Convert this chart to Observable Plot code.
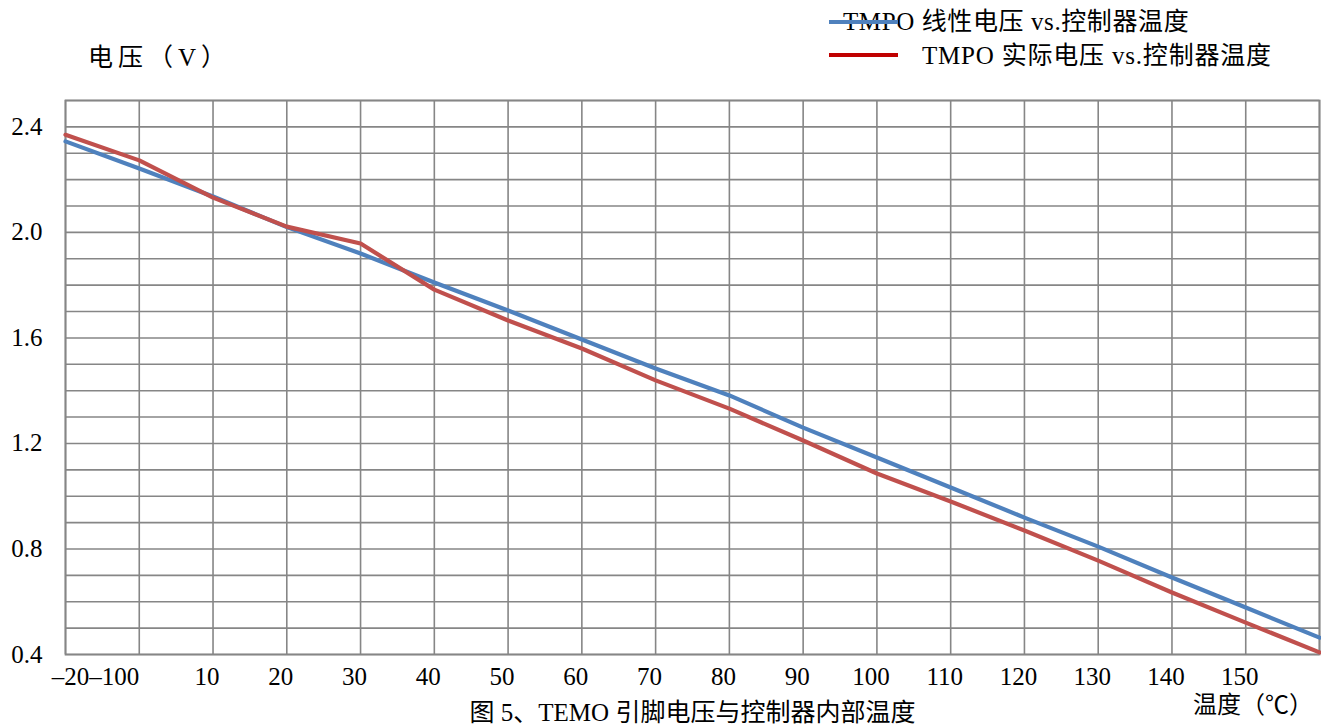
<!DOCTYPE html>
<html>
<head>
<meta charset="utf-8">
<script src="https://cdn.jsdelivr.net/npm/d3@7"></script>
<script src="https://cdn.jsdelivr.net/npm/@observablehq/plot@0.6"></script>
<style>
  html, body { margin: 0; padding: 0; background: #fff; }
  #wrap { position: relative; width: 1321px; height: 725px; overflow: hidden;
          font-family: "Liberation Serif", "Noto Sans CJK SC", serif; color: #000; }
  #wrap svg { position: absolute; left: 0; top: 0; }
  .lbl { position: absolute; font-size: 25px; line-height: 25px; white-space: nowrap; }
  .sw { position: absolute; }
</style>
</head>
<body>
<div id="wrap"></div>
<script>
// Temperature (°C) sampled every 10 degrees
const temps = [-10, 0, 10, 20, 30, 40, 50, 60, 70, 80, 90, 100, 110, 120, 130, 140, 150, 160];
// TMPO linear voltage vs. controller temperature (V)
const linearV = [2.345, 2.242, 2.136, 2.02, 1.92, 1.81, 1.704, 1.594, 1.484, 1.382, 1.26, 1.147, 1.033, 0.919, 0.809, 0.692, 0.578, 0.464];
// TMPO actual voltage vs. controller temperature (V)
const actualV = [2.37, 2.273, 2.132, 2.022, 1.958, 1.783, 1.666, 1.56, 1.439, 1.332, 1.211, 1.086, 0.98, 0.87, 0.756, 0.635, 0.521, 0.408];

const xGrid = [-10, 0, 10, 20, 30, 40, 50, 60, 70, 80, 90, 100, 110, 120, 130, 140, 150, 160];
const yGrid = [0.4, 0.5, 0.6, 0.7, 0.8, 0.9, 1.0, 1.1, 1.2, 1.3, 1.4, 1.5, 1.6, 1.7, 1.8, 1.9, 2.0, 2.1, 2.2, 2.3, 2.4, 2.5];
const xTickValues = [10, 20, 30, 40, 50, 60, 70, 80, 90, 100, 110, 120, 130, 140, 150];
const xFirstTick = [0];
const xFirstLabel = "–20–100";
const yTickValues = [0.4, 0.8, 1.2, 1.6, 2.0, 2.4];

const seriesNames = ["TMPO 线性电压 vs.控制器温度", "TMPO 实际电压 vs.控制器温度"];
const yTitle = "电压（V）";
const xTitle = "温度（℃）";
const caption = "图 5、TEMO 引脚电压与控制器内部温度";

const linearData = temps.map((t, i) => ({t, v: linearV[i]}));
const actualData = temps.map((t, i) => ({t, v: actualV[i]}));

const gridColor = "#868686";
const blue = "#4f81bd";
const red = "#c0504d";

const chart = Plot.plot({
  width: 1321,
  height: 725,
  marginLeft: 65,
  marginRight: 2,
  marginTop: 100,
  marginBottom: 71,
  style: {fontFamily: "'Liberation Serif', 'Noto Sans CJK SC', serif", fontSize: "25px", color: "#000", background: "transparent"},
  x: {domain: [-10, 160]},
  y: {domain: [0.4, 2.5]},
  marks: [
    Plot.ruleX(xGrid, {stroke: gridColor, strokeWidth: 1.6}),
    Plot.ruleY(yGrid, {stroke: gridColor, strokeWidth: 1.6}),
    Plot.frame({stroke: gridColor, strokeWidth: 1.8}),
    Plot.line(linearData, {x: "t", y: "v", stroke: blue, strokeWidth: 4.2}),
    Plot.line(actualData, {x: "t", y: "v", stroke: red, strokeWidth: 4.2}),
    Plot.axisY({ticks: yTickValues, tickSize: 0, tickPadding: 23, fontSize: 25, tickFormat: d => d.toFixed(1), label: null}),
    Plot.axisX({ticks: xTickValues, tickSize: 0, tickPadding: 13, fontSize: 25, dx: -6, tickFormat: d => String(d), label: null}),
    Plot.axisX({ticks: xFirstTick, tickSize: 0, tickPadding: 13, fontSize: 25, textAnchor: "end", dx: 0, tickFormat: () => xFirstLabel, label: null})
  ]
});

const wrap = document.getElementById("wrap");
wrap.appendChild(chart);

function addLabel(text, left, top, extra) {
  const d = document.createElement("div");
  d.className = "lbl";
  d.textContent = text;
  d.style.left = left + "px";
  d.style.top = top + "px";
  if (extra) Object.assign(d.style, extra);
  wrap.appendChild(d);
  return d;
}
function addSwatch(color, left, top, w, h) {
  const s = document.createElement("div");
  s.className = "sw";
  s.style.left = left + "px";
  s.style.top = top + "px";
  s.style.width = w + "px";
  s.style.height = h + "px";
  s.style.background = color;
  wrap.appendChild(s);
}

// axis titles
addLabel(yTitle, 88, 45, {letterSpacing: "5px"});
addLabel(xTitle, 1193, 693, {fontSize: "24px", lineHeight: "24px"});
// caption
addLabel(caption, 455, 700, {width: "475px", textAlign: "center"});
// legend
addLabel(seriesNames[0], 843, 9, {letterSpacing: "0.6px"});
addSwatch(blue, 829, 20, 69, 4);
addSwatch("#c00000", 829, 53, 69, 4);
addLabel(seriesNames[1], 922, 43, {letterSpacing: "0.8px"});
</script>
</body>
</html>
